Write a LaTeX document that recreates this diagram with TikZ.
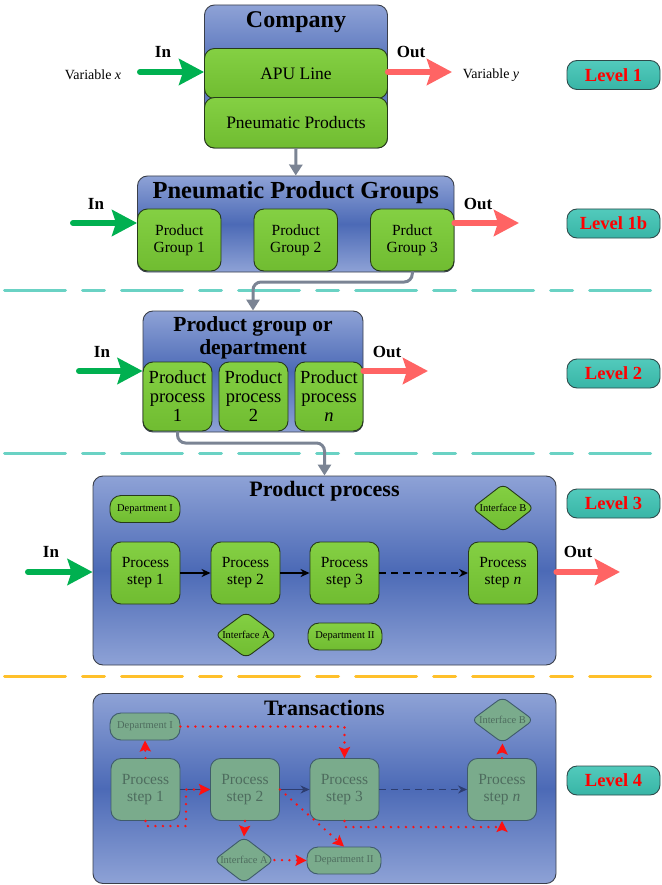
\documentclass[tikz,border=0pt]{standalone}
\usepackage{fontspec}
\setmainfont{Liberation Serif}
\usetikzlibrary{arrows.meta,shapes.geometric}
\definecolor{bluetop}{HTML}{8EA2D6}
\definecolor{bluemid}{HTML}{4C6AB6}
\definecolor{boxline}{HTML}{3A3F4A}
\definecolor{grntop}{HTML}{84D043}
\definecolor{grnbot}{HTML}{70BC31}
\definecolor{grnline}{HTML}{263A1A}
\definecolor{fadefill}{HTML}{7AAB8C}
\definecolor{fadeline}{HTML}{3F5B6B}
\definecolor{fadetext}{HTML}{4E6C5E}
\definecolor{inG}{HTML}{00B050}
\definecolor{outR}{HTML}{FF6464}
\definecolor{connG}{HTML}{7B8494}
\definecolor{lvltop}{HTML}{52CABC}
\definecolor{lvlbot}{HTML}{38B5A6}
\definecolor{lvlline}{HTML}{2E4A4A}
\definecolor{sepT}{HTML}{6AD2C4}
\definecolor{sepO}{HTML}{FFC02A}
\definecolor{darkB}{HTML}{2D3D70}
\definecolor{dotR}{HTML}{FF1010}
\begin{document}
\begin{tikzpicture}[x=1pt,y=-1pt,
  bluebox/.style={draw=boxline, line width=0.9pt, rounded corners=10pt,
    top color=bluetop, bottom color=bluetop, middle color=bluemid, inner sep=0pt},
  greenbox/.style={draw=grnline, line width=0.9pt, rounded corners=10pt,
    top color=grntop, bottom color=grnbot, inner sep=0pt, align=center},
  fadebox/.style={draw=fadeline, line width=0.9pt, rounded corners=10pt,
    fill=fadefill, text=fadetext, inner sep=0pt, align=center},
  diam/.style={diamond, draw=grnline, line width=0.9pt, rounded corners=6pt,
    top color=grntop, bottom color=grnbot, inner sep=0pt},
  fadediam/.style={diamond, draw=fadeline, line width=0.9pt, rounded corners=6pt,
    fill=fadefill, inner sep=0pt},
  ttl/.style={font=\fontsize{22}{23}\selectfont\bfseries, align=center},
  iolab/.style={font=\fontsize{17}{19}\selectfont\bfseries},
  varlab/.style={font=\fontsize{14}{16}\selectfont},
  small/.style={font=\fontsize{10.5}{12}\selectfont},
  steptxt/.style={font=\fontsize{15.5}{17}\selectfont},
  lvl/.style={draw=lvlline, line width=0.9pt, rounded corners=10pt,
    top color=lvltop, bottom color=lvlbot, text=red,
    font=\fontsize{18.5}{20}\selectfont\bfseries,
    minimum width=93pt, minimum height=29pt, inner sep=0pt},
  inarrow/.style={draw=inG, line width=6pt, line cap=round,
    -{Stealth[length=25pt,width=26pt,inset=4pt]}},
  outarrow/.style={draw=outR, line width=6pt, line cap=round,
    -{Stealth[length=25pt,width=26pt,inset=4pt]}},
  conn/.style={draw=connG, line width=3pt, rounded corners=8pt,
    -{Triangle[length=11pt,width=13pt]}},
  blk/.style={draw=black, line width=1.4pt, -{Stealth[length=9pt,width=8pt]}},
  dkb/.style={draw=darkB, line width=1.4pt, -{Stealth[length=9pt,width=8pt]}},
  rdot/.style={draw=dotR, line width=2.6pt, line cap=round,
    dash pattern=on 0pt off 7.5pt, -{Stealth[length=11pt,width=11pt,inset=2pt]}},
  septeal/.style={draw=sepT, line width=3pt, line cap=round,
    dash pattern=on 61pt off 17pt on 22pt off 17pt},
  sepor/.style={draw=sepO, line width=3pt, line cap=round,
    dash pattern=on 61pt off 17pt on 22pt off 17pt}
]
\useasboundingbox (0,0) rectangle (661,885);

% separators
\coordinate (sa1) at (4.5,290);  \coordinate (sa2) at (661,290);
\coordinate (sb1) at (4.5,453);  \coordinate (sb2) at (661,453);
\coordinate (sc1) at (4.5,676);  \coordinate (sc2) at (661,676);
\draw[septeal] (sa1) -- (sa2);
\draw[septeal] (sb1) -- (sb2);
\draw[sepor] (sc1) -- (sc2);

% ---------- Level 1 ----------
\node[bluebox, minimum width=183pt, minimum height=143pt] (comp) at (296,76.5) {};
\node[ttl, font=\fontsize{24}{26}\selectfont\bfseries] (comptitle) at (296,22) {Company};
\node[greenbox, minimum width=183pt, minimum height=50pt,
      font=\fontsize{17.5}{20}\selectfont] (apu) at (296,73.5) {APU Line};
\node[greenbox, minimum width=183pt, minimum height=50.5pt,
      font=\fontsize{17.5}{20}\selectfont] (pneu) at (296,122.75) {Pneumatic Products};
\coordinate (in1) at (140,72);
\coordinate (out1) at (452,72);
\draw[inarrow] (in1) -- (apu.west |- in1);
\draw[outarrow] (apu.east |- out1) -- (out1);
\node[iolab] (in1lab) at (163,52) {In};
\node[iolab] (out1lab) at (411,52) {Out};
\node[varlab] (varx) at (93,75) {Variable \textit{x}};
\node[varlab] (vary) at (491,75) {Variable \textit{y}};
\node[lvl] (lv1) at (613.5,75) {Level 1};

% ---------- Level 1b ----------
\node[bluebox, minimum width=316.5pt, minimum height=96pt] (pg) at (295.75,224) {};
\node[ttl, font=\fontsize{24.5}{26}\selectfont\bfseries] (pgtitle) at (295.75,193) {Pneumatic Product Groups};
\node[greenbox, minimum width=83.5pt, minimum height=62pt,
      font=\fontsize{15.5}{17}\selectfont] (pg1) at (179.25,240) {Product\\Group 1};
\node[greenbox, minimum width=83.5pt, minimum height=62pt,
      font=\fontsize{15.5}{17}\selectfont] (pg2) at (295.75,240) {Product\\Group 2};
\node[greenbox, minimum width=83.5pt, minimum height=62pt,
      font=\fontsize{15.5}{17}\selectfont] (pg3) at (412.25,240) {Prduct\\Group 3};
\draw[conn] (pneu.south) -- (pg.north);
\coordinate (in1b) at (73,223);
\coordinate (out1b) at (519,223);
\draw[inarrow] (in1b) -- (pg.west |- in1b);
\draw[outarrow] (pg.east |- out1b) -- (out1b);
\node[iolab] (in1blab) at (96,204) {In};
\node[iolab] (out1blab) at (478,204) {Out};
\node[lvl] (lv1b) at (613.5,223.5) {Level 1b};

% ---------- Level 2 ----------
\node[bluebox, minimum width=220pt, minimum height=121pt] (l2) at (253,371.5) {};
\node[ttl, font=\fontsize{21.5}{23}\selectfont\bfseries] (l2title) at (253,337.5) {Product group or\\department};
\node[greenbox, minimum width=69pt, minimum height=69pt,
      font=\fontsize{18.5}{19}\selectfont] (pp1) at (177.5,396.5) {Product\\process\\1};
\node[greenbox, minimum width=69pt, minimum height=69pt,
      font=\fontsize{18.5}{19}\selectfont] (pp2) at (253.5,396.5) {Product\\process\\2};
\node[greenbox, minimum width=68pt, minimum height=69pt,
      font=\fontsize{18.5}{19}\selectfont] (pp3) at (329,396.5) {Product\\process\\\textit{n}};
\coordinate (j1) at (0,282);
\draw[conn] (pg3.south) |- (j1 -| l2.north) -- (l2.north);
\coordinate (in2) at (79,371);
\coordinate (out2) at (428,371);
\draw[inarrow] (in2) -- (l2.west |- in2);
\draw[outarrow] (l2.east |- out2) -- (out2);
\node[iolab] (in2lab) at (102,352) {In};
\node[iolab] (out2lab) at (387,352) {Out};
\node[lvl] (lv2) at (613.5,373.5) {Level 2};

% ---------- Level 3 ----------
\node[bluebox, minimum width=463pt, minimum height=189pt] (l3) at (324.5,570.5) {};
\node[ttl] (l3title) at (324.5,491) {Product process};
\coordinate (j2) at (0,443);
\draw[conn] (pp1.south) |- (j2 -| l3.north) -- (l3.north);
\node[greenbox, small, rounded corners=11pt, minimum width=70pt, minimum height=27pt] (d1) at (145,509) {Department I};
\node[diam, minimum width=62pt, minimum height=48pt] (ib) at (503,508) {};
\node[small] (ibtxt) at (ib) {Interface B};
\node[greenbox, steptxt, minimum width=69pt, minimum height=62pt] (s1) at (145.5,573) {Process\\step 1};
\node[greenbox, steptxt, minimum width=69pt, minimum height=62pt] (s2) at (245.5,573) {Process\\step 2};
\node[greenbox, steptxt, minimum width=69pt, minimum height=62pt] (s3) at (344.5,573) {Process\\step 3};
\node[greenbox, steptxt, minimum width=69pt, minimum height=62pt] (sn) at (503,573) {Process\\step \textit{n}};
\node[diam, minimum width=62pt, minimum height=46pt] (ia) at (246,635) {};
\node[small] (iatxt) at (ia) {Interface A};
\node[greenbox, small, rounded corners=11pt, minimum width=74pt, minimum height=27pt] (d2) at (345,636.5) {Department II};
\draw[blk] (s1) -- (s2);
\draw[blk] (s2) -- (s3);
\draw[blk, dashed, dash pattern=on 7pt off 5pt] (s3) -- (sn);
\coordinate (in3) at (28,572);
\coordinate (out3) at (620,572);
\draw[inarrow] (in3) -- (l3.west |- in3);
\draw[outarrow] (l3.east |- out3) -- (out3);
\node[iolab] (in3lab) at (51,552) {In};
\node[iolab] (out3lab) at (578,552) {Out};
\node[lvl] (lv3) at (613.5,503.5) {Level 3};

% ---------- Level 4 ----------
\node[bluebox, minimum width=463pt, minimum height=190pt] (l4) at (324.5,788.5) {};
\node[ttl] (l4title) at (324.5,708) {Transactions};
\node[fadebox, small, rounded corners=11pt, minimum width=70pt, minimum height=27pt] (fd1) at (145,726.5) {Department I};
\node[fadediam, minimum width=62pt, minimum height=46pt] (fib) at (502.5,720) {};
\node[small, text=fadetext] (fibtxt) at (fib) {Interface B};
\node[fadebox, steptxt, minimum width=69pt, minimum height=62pt] (t1) at (145.5,789.5) {Process\\step 1};
\node[fadebox, steptxt, minimum width=69pt, minimum height=62pt] (t2) at (245,789.5) {Process\\step 2};
\node[fadebox, steptxt, minimum width=69pt, minimum height=62pt] (t3) at (344.5,789.5) {Process\\step 3};
\node[fadebox, steptxt, minimum width=69pt, minimum height=62pt] (tn) at (502,789.5) {Process\\step \textit{n}};
\node[fadediam, minimum width=60pt, minimum height=46pt] (fia) at (244,860) {};
\node[small, text=fadetext] (fiatxt) at (fia) {Interface A};
\node[fadebox, small, rounded corners=11pt, minimum width=74pt, minimum height=27pt] (fd2) at (344,860.5) {Department II};
\draw[dkb] (t1) -- (t2);
\draw[dkb] (t2) -- (t3);
\draw[dkb, dash pattern=on 7pt off 5pt] (t3) -- (tn);
\coordinate (c1) at (186,826);
\coordinate (c2) at (0,827);
\draw[rdot] (t1.north) -- (fd1.south);
\draw[rdot] (fd1.east) -| (t3.north);
\draw[rdot] (t1.south) |- (c1) |- (t2.west);
\draw[rdot] (t2.east) -- (fd2.north);
\draw[rdot] (t2.south) -- (fia.north);
\draw[rdot] (fia.east) -- (fd2.west);
\draw[rdot] (t3.south) -- (t3.south |- c2) -- (tn.south |- c2) -- (tn.south);
\draw[rdot] (tn.north) -- (fib.south);
\node[lvl] (lv4) at (613.5,780.5) {Level 4};
\end{tikzpicture}
\end{document}
